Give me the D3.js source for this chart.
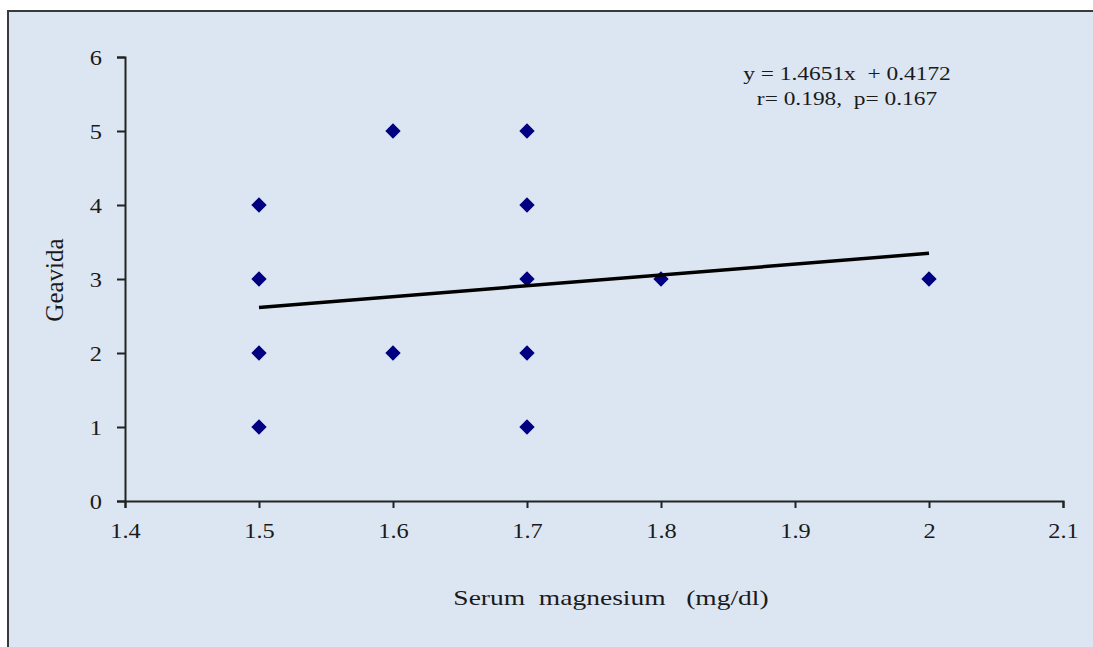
<!DOCTYPE html>
<html>
<head>
<meta charset="utf-8">
<script src="https://cdn.jsdelivr.net/npm/d3@7"></script>
<style>
  body { margin: 0; background: #fff; }
  text { font-family: "Liberation Serif", "Times New Roman", serif; fill: #1a1a1a; }
</style>
</head>
<body>
<svg id="chart" width="1093" height="647"></svg>
<script>
// magnesium values and gravida counts
let xValues = [1.5, 1.5, 1.5, 1.5, 1.6, 1.6, 1.7, 1.7, 1.7, 1.7, 1.7, 1.8, 2.0];
let yValues = [1, 2, 3, 4, 2, 5, 1, 2, 3, 4, 5, 3, 3];
let xTicks = [1.4, 1.5, 1.6, 1.7, 1.8, 1.9, 2.0, 2.1];
let yTicks = [0, 1, 2, 3, 4, 5, 6];
let slope = 1.4651, intercept = 0.4172;
let trendRange = [1.5, 2.0];
let eqLines = ["y = 1.4651x\u00a0\u00a0+ 0.4172", "r= 0.198,\u00a0\u00a0p= 0.167"];

var STRETCH = 1.22; // the source text looks a bit wide

var svg = d3.select('#chart');

// chart area background + frame (runs past the right/bottom edge)
svg.append('rect')
  .attr('x', 8).attr('y', 11)
  .attr('width', 1100).attr('height', 650)
  .attr('fill', '#dce6f2')
  .attr('stroke', '#3a3a3a').attr('stroke-width', 2);

var x = d3.scaleLinear().domain([1.4, 2.1]).range([125, 1063]);
var y = d3.scaleLinear().domain([0, 6]).range([501, 57]);

svg.append('g')
  .attr('class', 'x-axis')
  .attr('transform', `translate(0,${y(0)})`)
  .call(d3.axisBottom(x).tickValues(xTicks).tickSizeOuter(0).tickSize(7)
    .tickFormat((d) => String(+d.toFixed(1))));

svg.append('g')
  .attr('class', 'y-axis')
  .attr('transform', `translate(${x(1.4)},0)`)
  .call(d3.axisLeft(y).tickValues(yTicks).tickSizeOuter(0).tickSize(8)
    .tickFormat(d3.format('d')));

// axis styling
svg.selectAll('.domain').attr('stroke', '#222').attr('stroke-width', 2);
svg.selectAll('.tick line').attr('stroke', '#222').attr('stroke-width', 2);
svg.selectAll('.tick text')
  .style('font-family', '"Liberation Serif", serif')
  .style('font-size', '20px')
  .attr('fill', '#1a1a1a');

// widen the tick labels in place
svg.selectAll('.x-axis .tick text')
  .attr('x', null).attr('y', null).attr('dy', null)
  .attr('transform', `translate(0,37) scale(${STRETCH},1)`);
svg.selectAll('.y-axis .tick text')
  .attr('x', null).attr('dy', null)
  .attr('transform', `translate(-23,7) scale(${STRETCH},1)`);

// points
var diamond = d3.symbol().type(d3.symbolDiamond2).size(150);
svg.append('g').selectAll('path')
  .data(xValues.map((d, i) => [d, yValues[i]]))
  .enter()
  .append('path')
  .attr('d', diamond)
  .attr('transform', (d) => `translate(${x(d[0])},${y(d[1])})`)
  .attr('fill', '#000080');

// trend line
var line = d3.line().x((d) => x(d)).y((d) => y(slope * d + intercept));
svg.append('path')
  .datum(trendRange)
  .attr('d', line)
  .attr('stroke', '#000')
  .attr('stroke-width', 3.5)
  .attr('fill', 'none');

// equation
svg.append('g').selectAll('text')
  .data(eqLines)
  .enter()
  .append('text')
  .attr('transform', (d, i) => `translate(847,${80 + i * 25}) scale(1.3,1)`)
  .attr('text-anchor', 'middle')
  .style('font-size', '18px')
  .text((d) => d);

// axis titles
svg.append('text')
  .attr('transform', 'translate(611,605) scale(1.25,1)')
  .attr('text-anchor', 'middle')
  .style('font-size', '22px')
  .text('Serum\u00a0\u00a0magnesium\u00a0\u00a0\u00a0(mg/dl)');

svg.append('text')
  .attr('transform', 'translate(63,280) rotate(-90)')
  .attr('text-anchor', 'middle')
  .style('font-size', '25px')
  .text('Geavida');
</script>
</body>
</html>
